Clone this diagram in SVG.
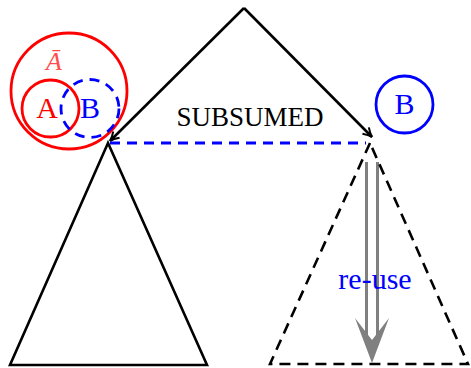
<svg xmlns="http://www.w3.org/2000/svg" width="471" height="368" viewBox="0 0 471 368">
<defs>
<style>
.blk{fill:none;stroke:#000;stroke-width:2.6;stroke-linejoin:miter}
.dash{fill:none;stroke:#000;stroke-width:2.6;stroke-dasharray:11 7}
.bdash{fill:none;stroke:#00f;stroke-width:2.8;stroke-dasharray:10 7}
.txt{font-family:"Liberation Serif","DejaVu Serif",serif}
</style>
<marker id="ah" viewBox="0 0 12 12" refX="10" refY="6" markerWidth="12" markerHeight="12" markerUnits="userSpaceOnUse" orient="auto">
<path d="M1,1.5 Q6,5 10,6 Q6,7 1,10.5" fill="none" stroke="#000" stroke-width="2"/>
</marker>
</defs>
<rect width="471" height="368" fill="#fff"/>
<g id="connectors">
<path class="blk" d="M244,8 L110,141" marker-end="url(#ah)"/>
<path class="blk" d="M244,8 L372,137" marker-end="url(#ah)"/>
<path class="bdash" d="M110,143 L366,143"/>
<g id="reuse-arrow">
<line x1="372" y1="162" x2="372" y2="345" stroke="#808080" stroke-width="14"/>
<line x1="372" y1="162" x2="372" y2="345" stroke="#fff" stroke-width="8"/>
<polygon points="372,363 355,318 372,340 389,318" fill="#808080"/>
</g>
</g>
<g id="left-tree">
<path class="blk" d="M108,143 L10,365 L207,365 Z"/>
</g>
<g id="right-tree">
<path class="dash" d="M370,143 L270,364 L468,364 Z"/>
</g>
<g id="abar">
<circle cx="69" cy="91" r="58" fill="none" stroke="#f00" stroke-width="2.8"/>
<text class="txt" x="54" y="70" font-size="26" font-style="italic" fill="#ff4d4d" text-anchor="middle">Ā</text>
</g>
<g id="a">
<circle cx="50.5" cy="108.5" r="28.5" fill="none" stroke="#f00" stroke-width="2.8"/>
<text class="txt" x="47" y="118" font-size="30" fill="#f00" text-anchor="middle">A</text>
</g>
<g id="b-small">
<circle cx="90" cy="108.5" r="29" fill="none" stroke="#00f" stroke-width="2.8" stroke-dasharray="10 7"/>
<text class="txt" x="90" y="118" font-size="30" fill="#00f" text-anchor="middle">B</text>
</g>
<g id="b">
<circle cx="404.5" cy="104.5" r="28.5" fill="none" stroke="#00f" stroke-width="2.8"/>
<text class="txt" x="404.5" y="114" font-size="30" fill="#00f" text-anchor="middle">B</text>
</g>
<text class="txt" x="250" y="126" font-size="27" fill="#000" text-anchor="middle">SUBSUMED</text>
<text class="txt" x="375" y="289" font-size="30" fill="#00f" text-anchor="middle">re-use</text>
</svg>
